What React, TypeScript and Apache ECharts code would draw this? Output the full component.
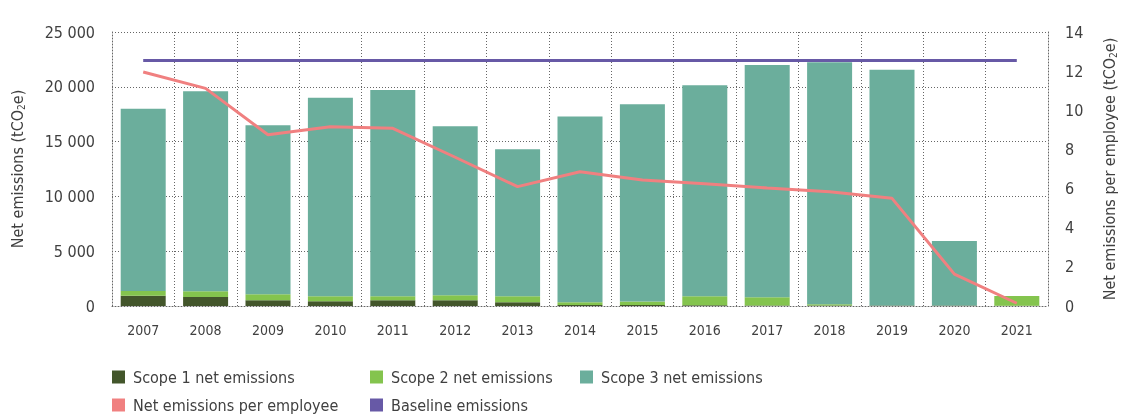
import React, { useEffect, useRef } from "react";
import * as echarts from "echarts";

const years = ["2007","2008","2009","2010","2011","2012","2013","2014","2015","2016","2017","2018","2019","2020","2021"];
const scope1 = [930, 820, 520, 430, 520, 520, 340, 100, 100, 70, 40, 40, 40, 40, 30];
const scope2 = [450, 520, 550, 450, 370, 450, 550, 250, 300, 820, 760, 120, 10, 10, 880];
const scope3 = [16620, 18260, 15430, 18120, 18810, 15430, 13410, 16950, 18000, 19260, 21200, 22090, 21500, 5880, 0];
const perEmployee = [11.96, 11.12, 8.75, 9.16, 9.08, 7.6, 6.1, 6.86, 6.44, 6.25, 6.03, 5.84, 5.5, 1.63, 0.14];
const baseline = [22400, 22400, 22400, 22400, 22400, 22400, 22400, 22400, 22400, 22400, 22400, 22400, 22400, 22400, 22400];
const leftTicks = { min: 0, max: 25000, interval: 5000 };
const rightTicks = { min: 0, max: 14, interval: 2 };

const FONT = '"Liberation Sans Narrow", "DejaVu Sans Condensed", "Roboto Condensed", sans-serif';
const TXT = "#404040";
const C1 = "#43562b";
const C2 = "#84c44e";
const C3 = "#6bae9c";
const CL = "#f08080";
const CB = "#6759a6";
const dotted = { color: "#666", type: [1, 2] as any, width: 1 };

function fmt(v: number) {
  return String(v).replace(/\B(?=(\d{3})+(?!\d))/g, " ");
}

export default function App() {
  const ref = useRef<HTMLDivElement>(null);
  useEffect(() => {
    if (!ref.current) return;
    const chart = echarts.init(ref.current, null, { renderer: "svg" });
    const legendBase = {
      icon: "rect",
      itemWidth: 13,
      itemHeight: 13,
      padding: 0,
      itemGap: 0,
      selectedMode: false,
      textStyle: { fontFamily: FONT, fontSize: 16, color: TXT, padding: [0, 0, 0, 3] },
    };
    const richSub = { sub: { fontSize: 10, fontFamily: FONT, color: TXT, verticalAlign: "bottom", lineHeight: 18 }, n: { fontSize: 16, fontFamily: FONT, color: TXT, lineHeight: 18 } };
    chart.setOption({
      animation: false,
      textStyle: { fontFamily: FONT, color: TXT },
      grid: { left: 112, right: 75, top: 32, bottom: 110, containLabel: false, outerBoundsMode: "none" },
      legend: [
        { ...legendBase, data: ["Scope 1 net emissions"], left: 112, top: 369 },
        { ...legendBase, data: ["Scope 2 net emissions"], left: 370, top: 369 },
        { ...legendBase, data: ["Scope 3 net emissions"], left: 580, top: 369 },
        { ...legendBase, data: ["Net emissions per employee"], left: 112, top: 397 },
        { ...legendBase, data: ["Baseline emissions"], left: 370, top: 397 },
      ],
      xAxis: {
        type: "category",
        data: years,
        boundaryGap: true,
        axisLine: { show: true, lineStyle: dotted },
        axisTick: { show: false },
        axisLabel: { fontFamily: FONT, fontSize: 14, color: TXT, margin: 17 },
        splitLine: { show: true, lineStyle: dotted },
      },
      yAxis: [
        {
          type: "value",
          min: leftTicks.min,
          max: leftTicks.max,
          interval: leftTicks.interval,
          position: "left",
          name: "{n|Net emissions (tCO}{sub|2}{n|e)}",
          nameLocation: "middle",
          nameGap: 86,
          nameRotate: 90,
          nameTextStyle: { fontFamily: FONT, fontSize: 16, color: TXT, rich: richSub },
          axisLine: { show: true, lineStyle: dotted },
          axisTick: { show: false },
          axisLabel: { fontFamily: FONT, fontSize: 16, color: TXT, margin: 17, formatter: (v: number) => fmt(v) },
          splitLine: { show: true, lineStyle: dotted },
        },
        {
          type: "value",
          min: rightTicks.min,
          max: rightTicks.max,
          interval: rightTicks.interval,
          position: "right",
          name: "{n|Net emissions per employee (tCO}{sub|2}{n|e)}",
          nameLocation: "middle",
          nameGap: 52,
          nameRotate: 90,
          nameTextStyle: { fontFamily: FONT, fontSize: 16, color: TXT, rich: richSub },
          axisLine: { show: true, lineStyle: dotted },
          axisTick: { show: false },
          axisLabel: { fontFamily: FONT, fontSize: 16, color: TXT, margin: 17 },
          splitLine: { show: false },
        },
      ],
      series: [
        { name: "Scope 1 net emissions", type: "bar", stack: "s", data: scope1, itemStyle: { color: C1 }, barWidth: 45, yAxisIndex: 0 },
        { name: "Scope 2 net emissions", type: "bar", stack: "s", data: scope2, itemStyle: { color: C2 }, barWidth: 45, yAxisIndex: 0 },
        { name: "Scope 3 net emissions", type: "bar", stack: "s", data: scope3, itemStyle: { color: C3 }, barWidth: 45, yAxisIndex: 0 },
        { name: "Net emissions per employee", type: "line", data: perEmployee, yAxisIndex: 1, showSymbol: false, symbol: "none", lineStyle: { color: CL, width: 3 }, itemStyle: { color: CL }, z: 5 },
        { name: "Baseline emissions", type: "line", data: baseline, yAxisIndex: 0, showSymbol: false, symbol: "none", lineStyle: { color: CB, width: 3 }, itemStyle: { color: CB }, z: 6 },
      ],
    });
    return () => chart.dispose();
  }, []);
  return <div ref={ref} style={{ position: "fixed", left: 0, top: 0, width: 1123, height: 416 }} />;
}
